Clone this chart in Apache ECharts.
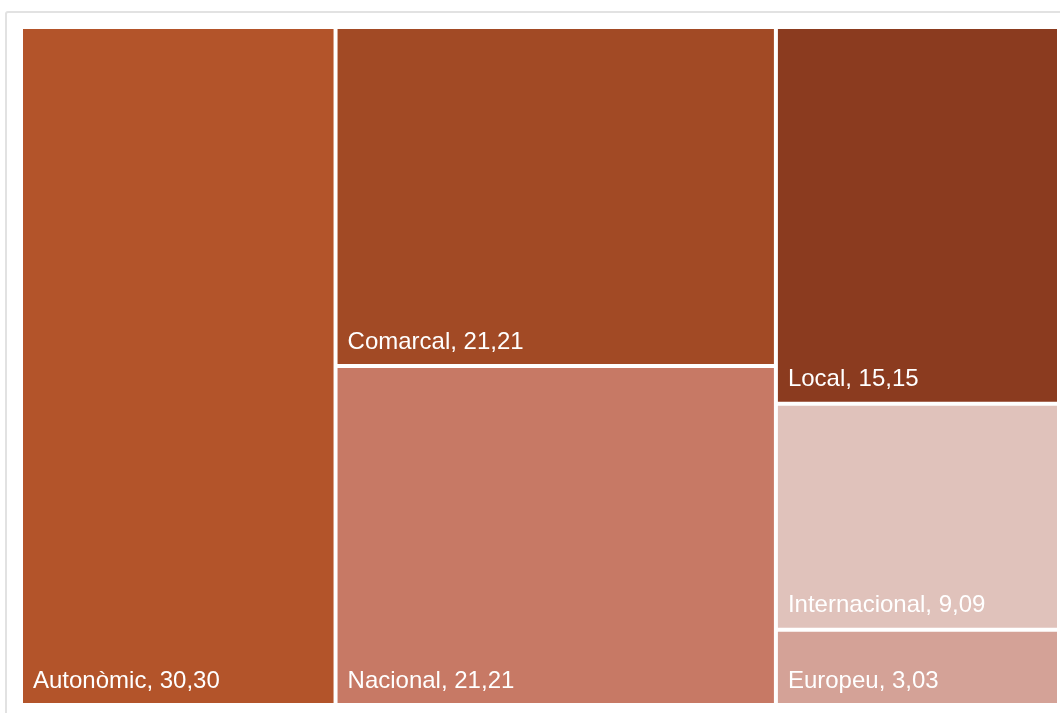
<!DOCTYPE html>
<html>
<head>
<meta charset="utf-8">
<script src="https://cdn.jsdelivr.net/npm/echarts@6/dist/echarts.min.js"></script>
<style>
  html, body { margin: 0; padding: 0; background: #fff; overflow: hidden; }
  #frame { position: absolute; left: 5px; top: 11px; width: 1100px; height: 800px; border: 2px solid #e2e2e2; border-radius: 3px; box-sizing: border-box; }
  #chart { position: absolute; left: 0; top: 0; width: 1060px; height: 713px; }
</style>
</head>
<body>
<div id="frame"></div>
<div id="chart"></div>
<script>
const categories = ['Autonòmic', 'Comarcal', 'Nacional', 'Local', 'Internacional', 'Europeu'];
const values = [30.30, 21.21, 21.21, 15.15, 9.09, 3.03];
const colors = ['#b3542a', '#a24a25', '#c77965', '#8b3b1f', '#e0c2bb', '#d4a297'];

const chart = echarts.init(document.getElementById('chart'), null, { renderer: 'canvas' });
const data = categories.map((name, i) => ({
  name: name,
  value: values[i],
  itemStyle: { color: colors[i] }
}));

chart.setOption({
  animation: false,
  series: [{
    type: 'treemap',
    left: 23, top: 29, width: 1034, height: 674,
    squareRatio: 0.8,
    sort: false,
    roam: false,
    nodeClick: false,
    breadcrumb: { show: false },
    itemStyle: { borderWidth: 0, gapWidth: 4, borderColor: '#fff' },
    levels: [
      { itemStyle: { borderWidth: 0, gapWidth: 4 } },
      { itemStyle: { borderWidth: 0 } }
    ],
    label: {
      show: true,
      position: 'insideBottomLeft',
      distance: 5,
      color: '#fff',
      fontFamily: 'Liberation Sans, Arial, sans-serif',
      fontSize: 24,
      formatter: p => p.name + ', ' + p.value.toFixed(2).replace('.', ',')
    },
    upperLabel: { show: false },
    data: data
  }]
});
</script>
</body>
</html>
